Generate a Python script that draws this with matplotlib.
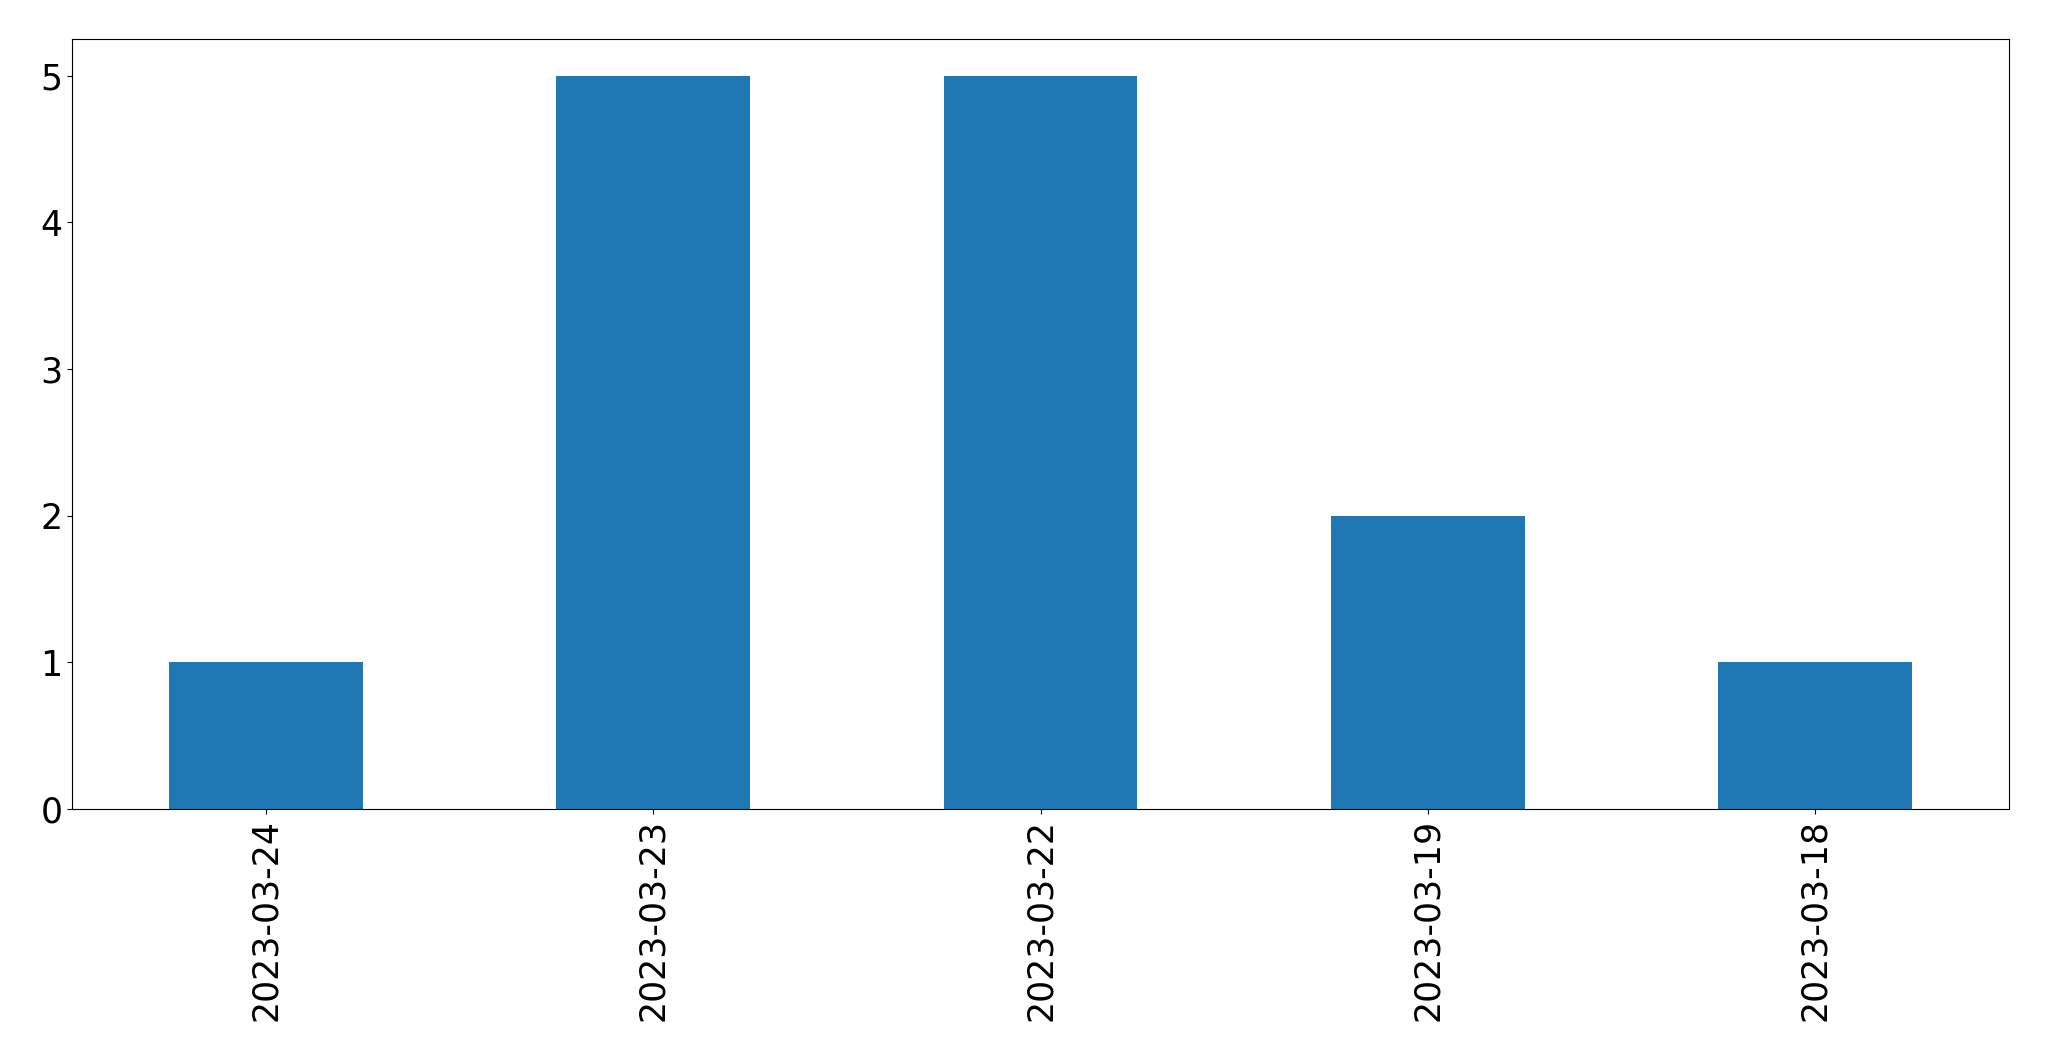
import matplotlib
matplotlib.use("Agg")
import matplotlib.pyplot as plt
import pandas as pd

# counts per day
dates = ["2023-03-24", "2023-03-23", "2023-03-22", "2023-03-19", "2023-03-18"]
counts = [1, 5, 5, 2, 1]

s = pd.Series(counts, index=dates)

fig, ax = plt.subplots(figsize=(20.49, 10.61), dpi=100)
fig.subplots_adjust(left=72 / 2049, right=2009 / 2049, top=1 - 39 / 1061, bottom=1 - 809 / 1061)
s.plot.bar(ax=ax, color="#1f77b4", fontsize=25)

fig.savefig("out.png", dpi=100)
